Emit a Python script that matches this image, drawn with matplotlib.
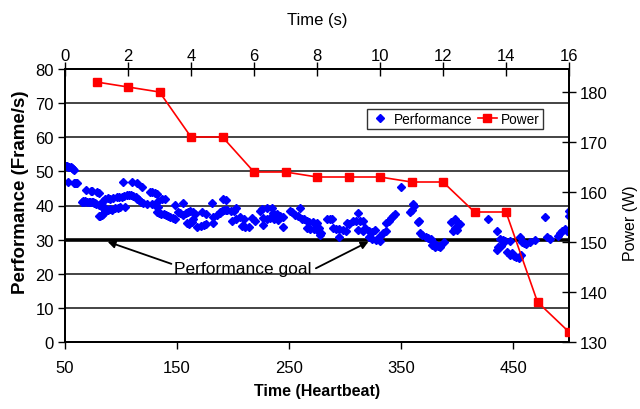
import matplotlib
matplotlib.use("Agg")
import matplotlib.pyplot as plt
from matplotlib.lines import Line2D

plt.rcParams['font.family'] = ['Liberation Sans', 'DejaVu Sans']

# ---- data ----
power_time = [1, 2, 3, 4, 5, 6, 7, 8, 9, 10, 11, 12, 13, 14, 15, 16]
power_watts = [182, 181, 180, 171, 171, 164, 164, 163, 163, 163, 162, 162, 156, 156, 138, 132]

perf_heartbeat = [
    50, 51, 52, 53, 54, 55, 56, 57, 58,
    53, 58, 59, 60, 61,
    69, 73, 74, 79, 80,
    65, 66, 67, 68, 70, 71, 72, 74, 75, 76, 77,
    78, 80, 82, 84,
    80, 81, 83, 84,
    86, 88, 90, 92, 95, 97, 99,
    84, 86, 88, 90, 93, 96, 98,
    102, 110, 114, 119,
    101, 103, 105, 107, 109, 111, 113, 115,
    114, 116, 118, 120, 123,
    104,
    126, 128, 130, 132,
    128, 131, 133,
    133, 137, 139,
    132, 134, 136, 138, 140, 142, 144, 146, 148,
    148, 155,
    151, 153, 155, 158, 160, 162, 164, 166,
    159, 161, 163, 164,
    168, 171, 174, 176,
    172, 176,
    181,
    182, 186, 188, 182,
    188, 190, 192, 194,
    191, 194,
    195, 198, 201, 203,
    199, 203,
    208, 211, 214,
    206, 210, 217, 220,
    224, 226, 230, 235,
    227, 230, 233, 237, 240, 227,
    236, 239, 242, 245, 245,
    251, 253, 255, 260, 258, 262,
    263, 266, 268, 271,
    266, 269, 272, 275, 278,
    275, 277, 279,
    284, 287, 288,
    289, 292, 295, 298, 301, 295,
    302, 304,
    307, 310, 313, 316, 312, 312, 316,
    318, 321, 324, 327,
    321, 324, 328, 331,
    331, 334, 337,
    337, 339, 341, 343, 345,
    350,
    358, 360, 361, 362,
    365, 366,
    367, 369, 372, 374,
    377, 378, 379, 380, 381, 383, 384, 385, 388,
    395, 398, 400, 403,
    396, 398, 400,
    428, 436,
    438, 441, 443, 447,
    436, 437, 439,
    445, 447, 449, 451, 453, 455, 457,
    456, 458, 460, 462, 465,
    470, 479, 480, 483,
    490, 492, 494, 496, 498,
    500, 500,
]
perf_fps = [
    51.6, 51.5, 51.6, 51.4, 51.3, 51.2, 51.0, 50.8, 50.5,
    46.8, 46.6, 46.5, 46.6, 46.5,
    44.6, 44.3, 44.3, 43.9, 43.7,
    41.0, 41.2, 41.1, 41.2, 41.0, 41.1, 40.9, 41.0, 40.9, 40.7, 40.8,
    40.4, 40.2, 40.0, 39.8,
    37.0, 36.8, 37.2, 37.4,
    38.3, 38.6, 39.0, 38.8, 39.2, 39.4, 39.6,
    41.4, 42.0, 42.2, 42.0, 42.3, 42.4, 42.5,
    46.8, 46.8, 46.6, 45.4,
    42.6, 42.8, 43.0, 43.1, 43.0, 42.7, 42.5, 42.0,
    41.8, 41.5, 41.0, 40.6, 40.3,
    39.5,
    44.0, 44.1, 43.8, 43.5,
    40.3, 40.0, 39.7,
    41.2, 41.9, 42.0,
    38.0, 37.8, 37.6, 37.5, 37.3, 37.0, 36.6, 36.2, 35.9,
    40.1, 40.6,
    38.2, 37.9, 37.3, 37.8, 38.0, 38.4, 38.1, 37.5,
    35.0, 34.6, 35.3, 35.9,
    33.6, 34.0, 34.4, 34.6,
    38.0, 37.4,
    40.6,
    36.5, 37.3, 37.8, 35.0,
    38.2, 38.5, 38.8, 38.6,
    42.0, 41.5,
    38.6, 38.4, 38.5, 39.2,
    35.6, 35.9,
    34.0, 33.6, 33.8,
    36.5, 36.0, 36.4, 35.5,
    38.5, 38.9, 39.4, 39.4,
    36.2, 36.0, 36.3, 36.0, 35.8, 34.4,
    37.9, 37.5, 37.0, 36.6, 33.8,
    38.3, 38.1, 37.2, 39.4, 36.8, 35.9,
    35.9, 35.6, 35.2, 35.3,
    33.3, 33.0, 33.1, 32.8, 31.5,
    35.0, 33.5, 31.8,
    35.9, 35.9, 35.9,
    33.3, 33.0, 33.0, 32.7, 32.5, 30.9,
    35.0, 34.6,
    35.5, 35.6, 35.4, 35.6, 37.9, 32.9, 32.6,
    33.3, 32.5, 32.2, 32.9,
    30.8, 30.1, 29.8, 29.5,
    31.0, 31.8, 32.5,
    35.0, 35.6, 36.4, 37.0, 37.5,
    45.4,
    38.2, 38.8, 40.5, 39.8,
    35.3, 35.6,
    32.0, 31.5, 30.8, 30.5,
    30.3, 28.5, 29.2, 27.8, 28.3, 28.2, 28.0, 27.9, 29.3,
    35.2, 35.9, 35.3, 34.5,
    32.4, 33.3, 32.9,
    36.1, 32.4,
    30.1, 29.9, 29.6, 29.5,
    27.0, 27.9, 28.0,
    26.3, 25.5, 26.0, 25.2, 25.0, 24.7, 25.4,
    30.8, 29.4, 29.0, 28.8, 29.3,
    30.0, 36.5, 30.9, 30.3,
    31.2, 32.0, 32.6, 33.0, 32.4,
    38.5, 36.8,
]

goal_fps = 30
goal_label = "Performance goal"

FS = 12
fig = plt.figure(figsize=(6.4, 4.1), dpi=100)
ax = fig.add_axes([65/640, 1 - 343/410, (569-65)/640, (343-70)/410])

# gridlines
for v in range(10, 80, 10):
    ax.axhline(v, color='#111111', lw=1.1, zorder=1)
ax.axhline(goal_fps, color='black', lw=2.6, zorder=1.5)

ax.plot(perf_heartbeat, perf_fps, linestyle='none', marker='D', ms=4.2,
        color='#0000FF', mec='#0000FF', zorder=3, label='Performance')
ax.set_xlim(50, 500)
ax.set_ylim(0, 80)
ax.set_xticks([50, 150, 250, 350, 450])
ax.set_yticks(range(0, 81, 10))
ax.tick_params(axis='x', labelsize=FS, direction='out', length=5, width=1, pad=8)
ax.tick_params(axis='y', labelsize=FS, direction='out', length=5, width=1, pad=3)
ax.set_xlabel('Time (Heartbeat)', fontsize=11.5, fontweight='bold', labelpad=6)
ax.set_ylabel('Performance (Frame/s)', fontsize=13.5, fontweight='bold')
ax.yaxis.set_label_coords(-0.071, 0.553)

# goal annotation (text + two arrows)
ax.text(209, 21.6, goal_label, fontsize=12.5, ha='center', va='center')
arrow_kw = dict(arrowstyle='-|>', color='black', lw=1.3, shrinkA=0, shrinkB=0,
                mutation_scale=11)
ax.annotate('', xy=(88, 29.4), xytext=(145, 22.9), arrowprops=arrow_kw)
ax.annotate('', xy=(321, 29.4), xytext=(274, 21.6), arrowprops=arrow_kw)

ax2 = ax.twinx()
ax2.set_ylim(130, 130 + 273/5)
ax2.set_yticks(range(130, 181, 10))
ax2.tick_params(axis='y', labelsize=FS, direction='inout', length=10, width=1, pad=3)
ax2.set_ylabel('Power (W)', fontsize=11.5)
ax2.yaxis.set_label_coords(1.108, 0.44)

ax3 = ax2.twiny()
ax3.plot(power_time, power_watts, color='#FF0000', lw=1.2, marker='s', ms=5.5,
         mfc='#FF0000', mec='#FF0000', zorder=4, label='Power')
ax3.set_xlim(0, 16)
ax3.set_xticks(range(0, 17, 2))
ax3.tick_params(axis='x', labelsize=FS, direction='inout', length=10, width=1, pad=-1)
ax3.set_xlabel('Time (s)', fontsize=12)
ax3.xaxis.set_label_coords(0.5, 1.165)

for a in (ax, ax2, ax3):
    for s in a.spines.values():
        s.set_color('black')
        s.set_linewidth(1.2)

handles = [Line2D([], [], linestyle='none', marker='D', ms=4.2, color='#0000FF'),
           Line2D([], [], color='#FF0000', lw=1.2, marker='s', ms=5.5)]
leg = ax3.legend(handles, ['Performance', 'Power'], loc='center',
                 bbox_to_anchor=(0.774, 0.817), ncol=2, fontsize=9.8,
                 frameon=True, fancybox=False, edgecolor='black',
                 handlelength=1.4, handletextpad=0.3, columnspacing=0.4,
                 borderpad=0.25, borderaxespad=0)
leg.get_frame().set_linewidth(1.0)

fig.savefig('out.png', dpi=100)
